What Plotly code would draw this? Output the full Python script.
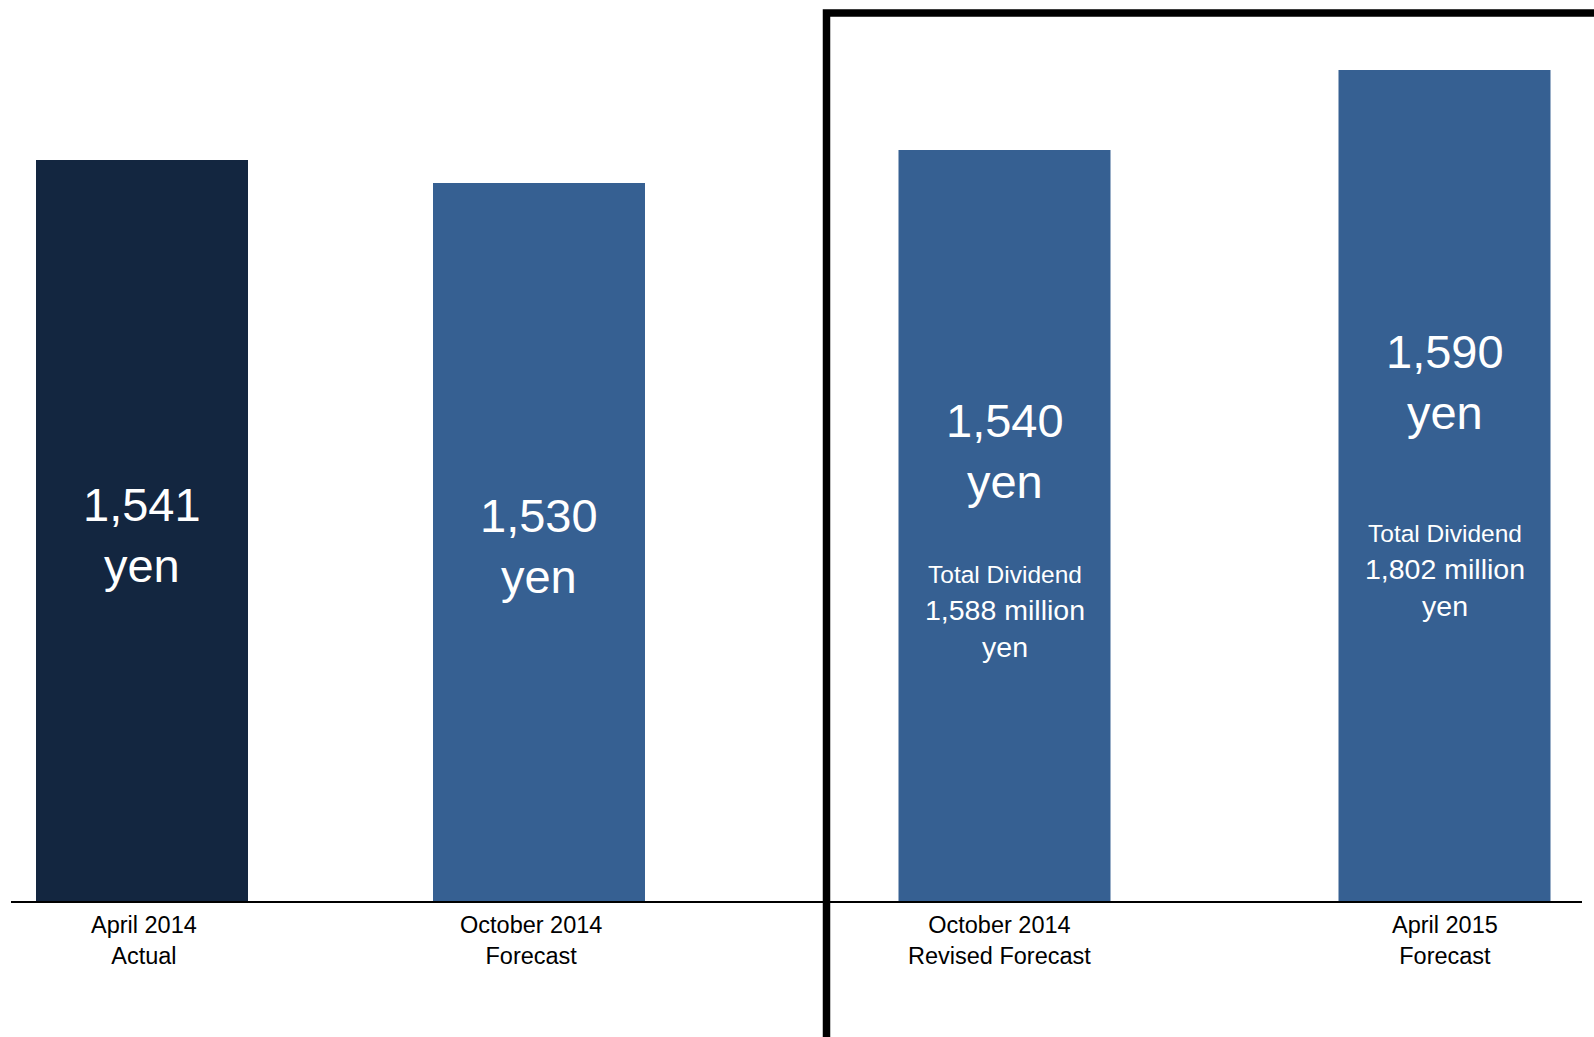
import plotly.graph_objects as go

# ---- data ----
cat_line1 = ["April 2014", "October 2014", "October 2014", "April 2015"]
cat_line2 = ["Actual", "Forecast", "Revised Forecast", "Forecast"]
dividend_per_share = [1541, 1530, 1540, 1590]          # yen (labels)
total_dividend_mn = [None, None, 1588, 1802]           # million yen
bar_heights = [742, 719, 752, 832]                     # drawn (schematic) bar heights
bar_colors = ["#132640", "#366092", "#366092", "#366092"]

# ---- layout constants (pixel-like units) ----
W, H = 1594, 1037
BASE = 902                      # baseline from top
slot_centers = [142, 539, 1004.5, 1444.5]
BAR_W = 212
label_xshift = [2, -8, -5, 0]
value_pos = [0.495, 0.495, 0.60, 0.625]   # fraction of bar height
div_pos = [None, None, 0.386, 0.398]

fig = go.Figure()
fig.add_trace(go.Bar(
    x=slot_centers, y=bar_heights, width=BAR_W,
    marker=dict(color=bar_colors, line=dict(width=0)),
    hoverinfo="skip",
))

ann = []
FONT = "Liberation Sans, Arial, sans-serif"
for i, (xc, h, v, d) in enumerate(zip(slot_centers, bar_heights, dividend_per_share, total_dividend_mn)):
    ann.append(dict(x=xc, y=h * value_pos[i], text=f"{v:,}<br>yen", showarrow=False,
                    font=dict(family=FONT, size=47, color="white"),
                    xanchor="center", yanchor="middle"))
    if d is not None:
        ann.append(dict(x=xc, y=h * div_pos[i],
                        text=f"<span style='font-size:24.5px'>Total Dividend</span><br>{d:,} million<br>yen",
                        showarrow=False,
                        font=dict(family=FONT, size=28.5, color="white"),
                        xanchor="center", yanchor="middle"))
    ann.append(dict(x=xc, y=-38, xshift=label_xshift[i],
                    text=f"{cat_line1[i]}<br>{cat_line2[i]}", showarrow=False,
                    font=dict(family=FONT, size=23.5, color="black"),
                    xanchor="center", yanchor="middle"))

shapes = [
    # baseline
    dict(type="line", xref="x", yref="y", x0=11, x1=1582, y0=0, y1=0,
         line=dict(color="black", width=2)),
    # highlight frame (left + top)
    dict(type="path", xref="x", yref="y",
         path=f"M 826.5 -140 L 826.5 {BASE - 13} L 1600 {BASE - 13}",
         line=dict(color="black", width=7.5)),
]

fig.update_layout(
    width=W, height=H,
    margin=dict(l=0, r=0, t=0, b=0, pad=0),
    paper_bgcolor="white", plot_bgcolor="white",
    showlegend=False,
    xaxis=dict(range=[0, W], visible=False, fixedrange=True),
    yaxis=dict(range=[-(H - BASE), BASE], visible=False, fixedrange=True),
    annotations=ann, shapes=shapes,
    hovermode=False,
)

fig.write_html("out.html", config={"displayModeBar": False})
